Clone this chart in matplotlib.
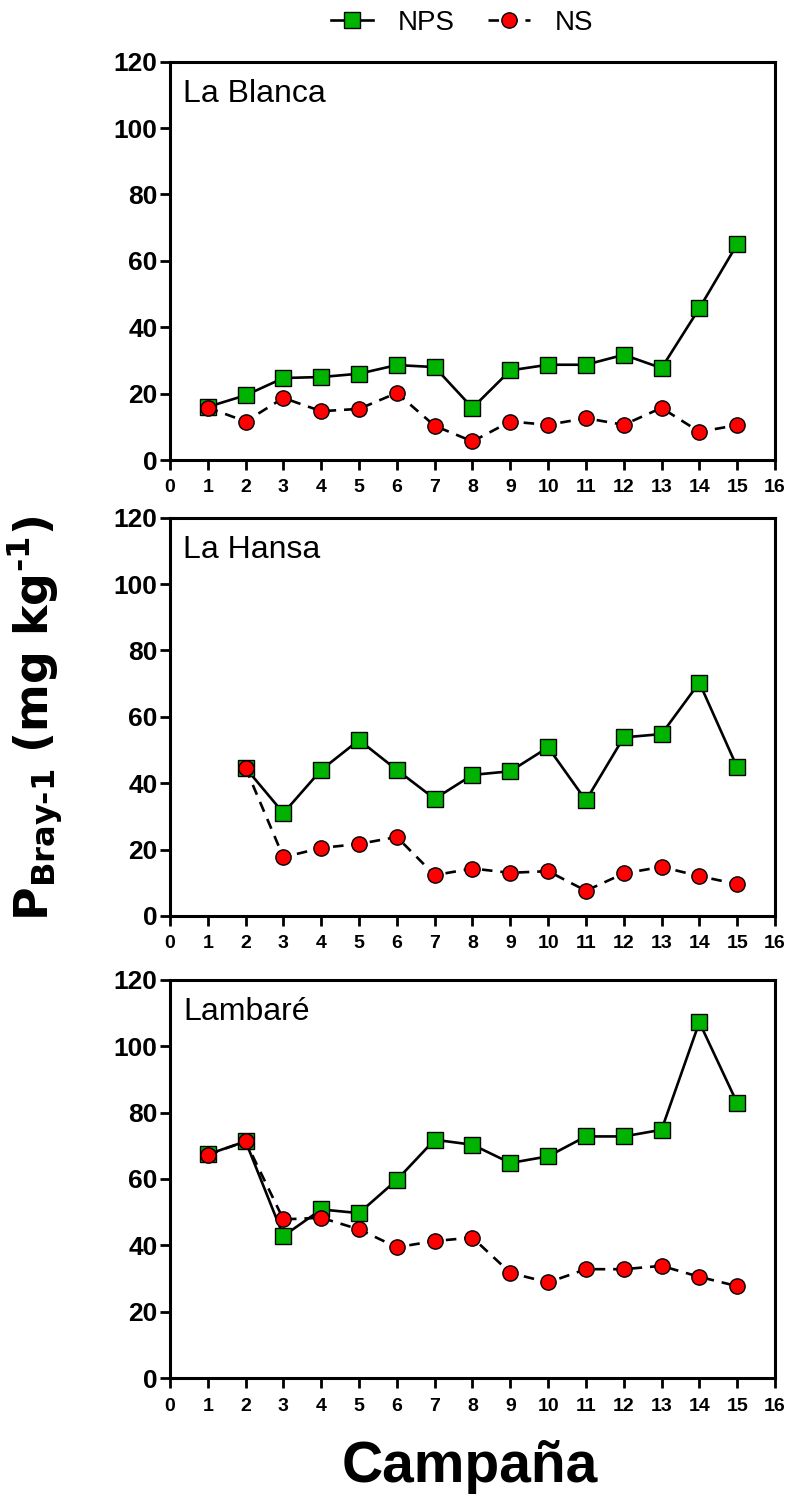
import matplotlib
matplotlib.use("Agg")
import matplotlib.pyplot as plt

plt.rcParams['font.family'] = ['Liberation Sans', 'DejaVu Sans']
plt.rcParams['mathtext.fontset'] = 'custom'
plt.rcParams['mathtext.bf'] = 'DejaVu Sans:bold'
plt.rcParams['mathtext.rm'] = 'DejaVu Sans:bold'

# P Bray-1 por campaña en cada sitio
sitios = ["La Blanca", "La Hansa", "Lambaré"]

camp_blanca = list(range(1, 16))
nps_blanca = [16, 19.5, 24.7, 25, 26, 28.6, 28, 15.7, 27, 28.7, 28.7, 31.7, 27.7, 45.7, 65]
ns_blanca = [15.8, 11.6, 18.7, 14.7, 15.4, 20.2, 10.3, 5.6, 11.6, 10.6, 12.6, 10.6, 15.7, 8.5, 10.5]

camp_hansa = list(range(2, 16))
nps_hansa = [44.6, 31, 44, 53, 44, 35.3, 42.5, 43.6, 50.8, 34.8, 53.8, 54.8, 70.3, 44.8]
ns_hansa = [44.6, 17.7, 20.5, 21.7, 23.8, 12.3, 14.3, 13, 13.5, 7.6, 12.8, 14.8, 12, 9.6]

camp_lambare = list(range(1, 16))
nps_lambare = [67.4, 71.3, 42.8, 50.8, 49.7, 59.7, 71.8, 70.3, 64.8, 66.8, 72.8, 72.8, 74.8, 107.2, 82.9]
ns_lambare = [67.3, 71.3, 47.8, 48.3, 44.8, 39.4, 41.3, 42.3, 31.7, 28.8, 32.8, 32.8, 33.8, 30.5, 27.7]

datos = [
    (camp_blanca, nps_blanca, ns_blanca),
    (camp_hansa, nps_hansa, ns_hansa),
    (camp_lambare, nps_lambare, ns_lambare),
]

VERDE = '#00b300'
ROJO = '#ff0000'

fig = plt.figure(figsize=(7.87, 14.94), dpi=100)
bottoms = [0.6921, 0.3869, 0.0776]
axs = []
for i, b in enumerate(bottoms):
    ax = fig.add_axes([0.216, b, 0.7687, 0.2666])
    x, nps, ns = datos[i]
    ax.plot(x, nps, color='black', lw=1.9, marker='s', ms=11.5,
            mfc=VERDE, mec='black', mew=1.0, label='NPS', zorder=3)
    ax.plot(x, ns, color='black', lw=1.9, ls=(0, (4, 3)), marker='o', ms=11,
            mfc=ROJO, mec='black', mew=1.0, label='NS', zorder=4)
    ax.set_xlim(0, 16)
    ax.set_ylim(0, 120)
    ax.set_xticks(range(0, 17))
    ax.set_yticks(range(0, 121, 20))
    for s in ax.spines.values():
        s.set_linewidth(2.2)
    ax.tick_params(axis='x', direction='out', length=7, width=2, labelsize=14, pad=7)
    ax.tick_params(axis='y', direction='out', length=7, width=2, labelsize=19, pad=2)
    for lab in ax.get_xticklabels() + ax.get_yticklabels():
        lab.set_fontweight('bold')
    ax.text(0.0215, 0.899, sitios[i], transform=ax.transAxes, fontsize=23,
            ha='left', va='baseline')
    axs.append(ax)

h, l = axs[0].get_legend_handles_labels()
fig.legend(h, l, loc='center', bbox_to_anchor=(462 / 787, 0.9845), ncol=2,
           frameon=False, fontsize=20, handlelength=1.5, handletextpad=0.9,
           columnspacing=1.2)

fig.text(470 / 787, 0.008, 'Campaña', ha='center', va='baseline',
         fontsize=41, fontweight='bold')
fig.text(0.044, 0.519, r'$\mathbf{P_{Bray\text{-}1}\ (mg\ kg^{\text{-}1})}$',
         rotation=90, ha='center', va='center', fontsize=33)

fig.savefig('out.png', dpi=100)
